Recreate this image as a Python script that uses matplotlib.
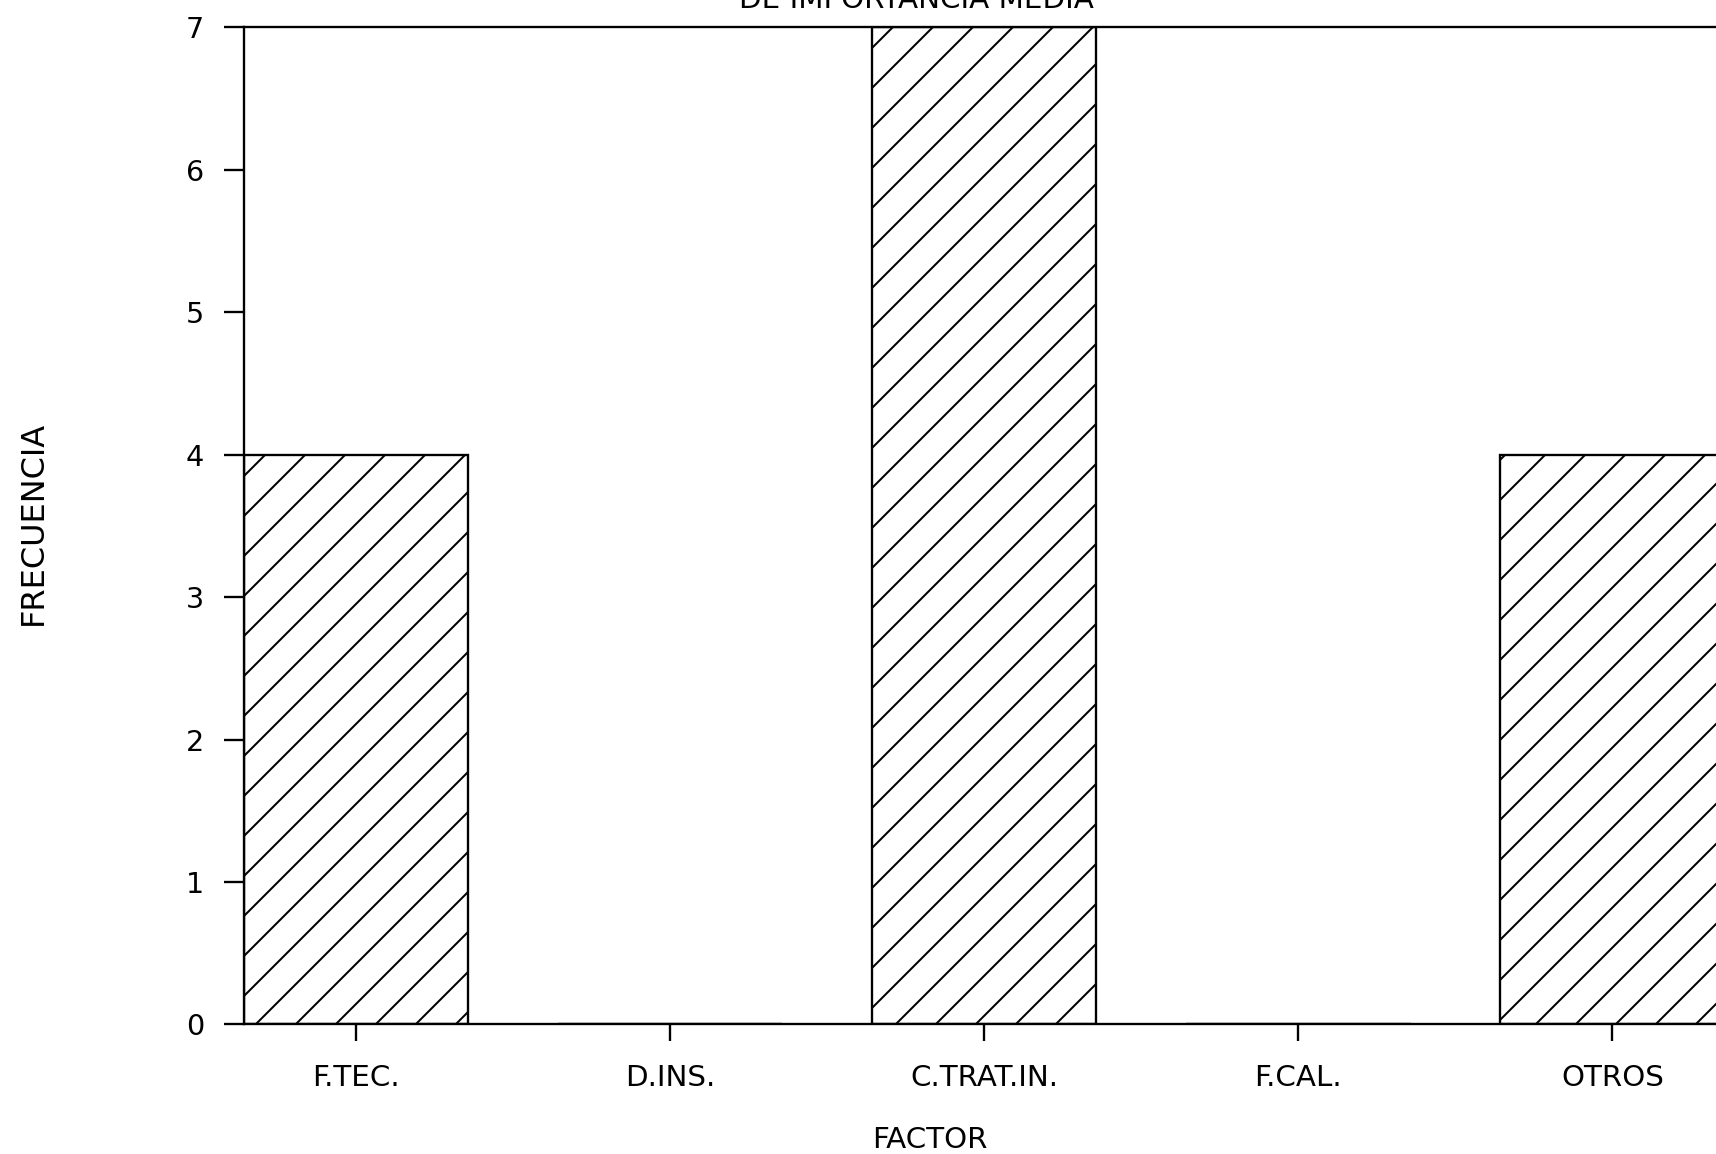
import numpy as np
import matplotlib
matplotlib.use("Agg")
import matplotlib.pyplot as plt

# data
factores = ["F.TEC.", "D.INS.", "C.TRAT.IN.", "F.CAL.", "OTROS"]
frecuencia = [4, 0, 7, 0, 4]
y_ticks = [0, 1, 2, 3, 4, 5, 6, 7]

# hatch spacing follows dpi, so use a high dpi and a small figure
dpi = 240
plt.rcParams['hatch.linewidth'] = 0.6
plt.rcParams['font.family'] = 'DejaVu Sans'

fig = plt.figure(figsize=(1716 / dpi, 1154 / dpi), dpi=dpi)
ax = fig.add_axes([0.1422, 0.1123, 0.8628, 0.864])

x = np.arange(len(factores))
ancho = 0.714
ax.bar(x, frecuencia, width=ancho, color="white", edgecolor="black",
       hatch="//", linewidth=0.7)

ax.set_xlim(-ancho / 2, len(factores) - 1 + ancho / 2)
ax.set_ylim(0, 7)

ax.set_xticks(x)
ax.set_xticklabels(factores)
ax.set_yticks(y_ticks)

ax.tick_params(axis="y", direction="out", length=6, width=0.7, pad=6.0,
               labelsize=8.6)
ax.tick_params(axis="x", direction="out", length=5, width=0.7, pad=7.0,
               labelsize=8.8)

for s in ax.spines.values():
    s.set_linewidth(0.7)

fig.text(0.542, 0.012, "FACTOR", ha="center", va="center", fontsize=8.8)
fig.text(0.0192, 0.547, "FRECUENCIA", ha="center", va="center",
         rotation=90, fontsize=9.6)
# title is cut off at the top edge in the original
fig.text(0.534, 0.993, "DE IMPORTANCIA MEDIA", ha="center", va="baseline",
         fontsize=8.8)

fig.savefig("out.png", dpi=dpi)
